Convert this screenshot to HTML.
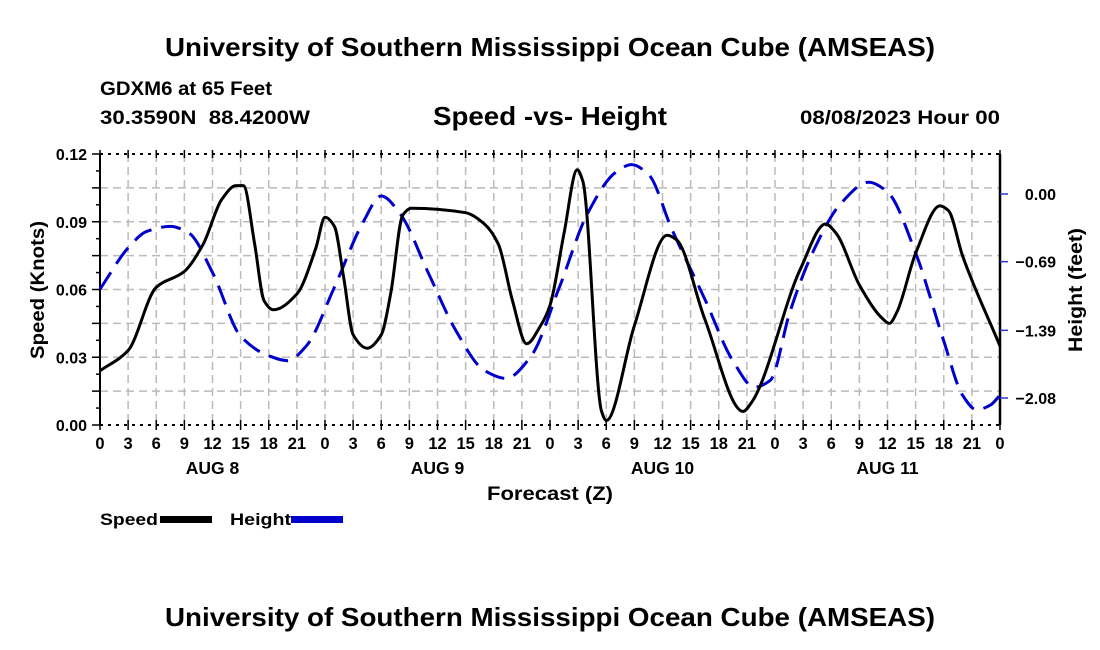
<!DOCTYPE html>
<html><head><meta charset="utf-8"><style>
html,body{margin:0;padding:0;background:#fff;width:1100px;height:650px;overflow:hidden}
svg text{font-family:"Liberation Sans",Arial,sans-serif;font-weight:bold;fill:#000;white-space:pre}
</style></head><body>
<svg id="chart" width="1100" height="650" viewBox="0 0 1100 650">
<text x="550" y="56" text-anchor="middle" font-size="26" textLength="770" lengthAdjust="spacingAndGlyphs">University of Southern Mississippi Ocean Cube (AMSEAS)</text>
<text x="100" y="95" font-size="19" textLength="172" lengthAdjust="spacingAndGlyphs">GDXM6 at 65 Feet</text>
<text x="100" y="124" font-size="19" textLength="210" lengthAdjust="spacingAndGlyphs">30.3590N  88.4200W</text>
<text x="550" y="125" text-anchor="middle" font-size="26" textLength="234" lengthAdjust="spacingAndGlyphs">Speed -vs- Height</text>
<text x="800" y="124" font-size="19" textLength="200" lengthAdjust="spacingAndGlyphs">08/08/2023 Hour 00</text>
<g id="grid"></g>
<g id="axes"></g>
<g id="series"></g>
<text x="550" y="500" text-anchor="middle" font-size="19" textLength="126" lengthAdjust="spacingAndGlyphs">Forecast (Z)</text>
<text transform="translate(44,290) rotate(-90)" text-anchor="middle" font-size="19" textLength="138" lengthAdjust="spacingAndGlyphs">Speed (Knots)</text>
<text transform="translate(1082,290) rotate(-90)" text-anchor="middle" font-size="19" textLength="124" lengthAdjust="spacingAndGlyphs">Height (feet)</text>
<g>
<text x="100" y="525" font-size="17" textLength="58" lengthAdjust="spacingAndGlyphs">Speed</text>
<rect x="160" y="516" width="52" height="7" fill="#000"/>
<text x="230" y="525" font-size="17" textLength="61" lengthAdjust="spacingAndGlyphs">Height</text>
<rect x="291" y="516" width="52" height="7" fill="#0000cc"/>
</g>
<text x="550" y="626" text-anchor="middle" font-size="26" textLength="770" lengthAdjust="spacingAndGlyphs">University of Southern Mississippi Ocean Cube (AMSEAS)</text>
</svg>
<script>
const speedHours=[0,3,6,9,11,13,14.5,15.3,16.5,17.5,18.5,21,23,24,25,26,27,28.5,30,31,32.3,33.2,39,41,42.5,44,45.5,47,48,49.5,50.9,51.5,53.5,54,57,60.5,61.5,64.5,68.6,69.5,74.7,77.4,78.5,81,83.5,84.2,85,87,89.6,90.5,92,96];
const speedValues=[.024,.033,.061,.068,.080,.100,.106,.106,.080,.055,.051,.058,.078,.092,.088,.065,.040,.034,.040,.058,.093,.096,.094,.089,.080,.055,.036,.044,.053,.085,.113,.108,.006,.002,.044,.084,.082,.047,.006,.010,.069,.089,.085,.062,.047,.045,.050,.076,.097,.095,.075,.035];
const heightHours=[0,3,5,7.5,9.5,12,15,18,20,22,25,28,30,32,35,38,41,43.3,46,49,52,55,56.7,58.5,61,64.5,67.5,69.8,71.5,73.6,76,79,82,84,87,90,92,93.5,95,96];
const heightValues=[-0.97,-0.55,-0.38,-0.33,-0.40,-0.80,-1.45,-1.65,-1.70,-1.55,-0.95,-0.30,-0.02,-0.20,-0.80,-1.40,-1.80,-1.88,-1.65,-0.95,-0.20,0.22,0.30,0.20,-0.36,-1.07,-1.70,-1.97,-1.90,-1.20,-0.60,-0.10,0.12,0.02,-0.60,-1.50,-2.05,-2.20,-2.15,-2.05];
const leftTicks=["0.00","0.03","0.06","0.09","0.12"];
const leftTickValues=[0,0.03,0.06,0.09,0.12];
const rightTicks=["0.00","\u22120.69","\u22121.39","\u22122.08"];
const rightTickValues=[0,-0.69,-1.39,-2.08];
const hourLabels=["0","3","6","9","12","15","18","21"];
const dayLabels=["AUG 8","AUG 9","AUG 10","AUG 11"];

const X0=100,X1=1000,YT=154,YB=425;
const xs=h=>X0+h*(X1-X0)/96;
const ys=v=>YB-v*(YB-YT)/0.12;
const yh=f=>194-f*(204/2.08);
const NS="http://www.w3.org/2000/svg";
function mk(tag,attrs,parent){const e=document.createElementNS(NS,tag);for(const k in attrs)e.setAttribute(k,attrs[k]);parent.appendChild(e);return e;}
const grid=document.getElementById('grid'),axes=document.getElementById('axes'),series=document.getElementById('series');
for(let i=1;i<32;i++){const x=xs(i*3);
 const l=mk('line',{x1:x,y1:YT,x2:x,y2:YB,stroke:'#bbb','stroke-width':1.5,'stroke-dasharray':'8,5'},grid);
 
 }
for(let i=1;i<8;i++){const y=ys(i*0.015);
 const l=mk('line',{x1:X0,y1:y,x2:X1,y2:y,stroke:'#bbb','stroke-width':1.5,'stroke-dasharray':'8,5'},grid);
 
 }
mk('line',{x1:X0,y1:YT,x2:X1,y2:YT,stroke:'#000','stroke-width':2,'stroke-dasharray':'3,5'},axes);
mk('line',{x1:X0,y1:YB,x2:X1,y2:YB,stroke:'#000','stroke-width':2,'stroke-dasharray':'3,5'},axes);
mk('line',{x1:X0,y1:YT,x2:X0,y2:YB,stroke:'#000','stroke-width':2},axes);
mk('line',{x1:X1,y1:YT,x2:X1,y2:YB,stroke:'#000','stroke-width':2.5},axes);
for(let i=0;i<=32;i++){const x=xs(i*3);
 mk('line',{x1:x,y1:YB-5,x2:x,y2:YB+5,stroke:'#000','stroke-width':1.5},axes);
 mk('line',{x1:x,y1:YT-4,x2:x,y2:YT+4,stroke:'#000','stroke-width':1.5},axes);
 const t=mk('text',{x:x,y:449,'text-anchor':'middle','font-size':16.5},axes);
 t.textContent=i==32?"0":hourLabels[i%8];
 
 }
dayLabels.forEach((d,i)=>{const t=mk('text',{x:xs(i*24+12),y:474,'text-anchor':'middle','font-size':17.5},axes);t.textContent=d;
 
 });
for(let i=0;i<=16;i++){const y=ys(i*0.0075);mk('line',{x1:X0-(i%2?4:8),y1:y,x2:X0,y2:y,stroke:'#000','stroke-width':1.5},axes);}
leftTickValues.forEach((v,i)=>{const t=mk('text',{x:87,y:ys(v)+6,'text-anchor':'end','font-size':16},axes);t.textContent=leftTicks[i];
 
 });
rightTickValues.forEach((v,i)=>{const y=yh(v);mk('line',{x1:X1,y1:y,x2:X1+8,y2:y,stroke:'#3333cc','stroke-width':1.5},axes);
 const t=mk('text',{x:1056,y:y+6,'text-anchor':'end','font-size':16},axes);t.textContent=rightTicks[i];
 
 });
function monotone(pts){const n=pts.length,dx=[],m=[],t=[];
 for(let i=0;i<n-1;i++){dx.push(pts[i+1][0]-pts[i][0]);m.push((pts[i+1][1]-pts[i][1])/dx[i]);}
 t[0]=m[0];t[n-1]=m[n-2];
 for(let i=1;i<n-1;i++){if(m[i-1]*m[i]<=0)t[i]=0;else{const w1=2*dx[i]+dx[i-1],w2=dx[i]+2*dx[i-1];t[i]=(w1+w2)/(w1/m[i-1]+w2/m[i]);}}
 let d='M'+pts[0][0].toFixed(1)+','+pts[0][1].toFixed(1);
 for(let i=0;i<n-1;i++){const h=dx[i]/3;
  d+=' C'+(pts[i][0]+h).toFixed(1)+','+(pts[i][1]+t[i]*h).toFixed(1)+' '+(pts[i+1][0]-h).toFixed(1)+','+(pts[i+1][1]-t[i+1]*h).toFixed(1)+' '+pts[i+1][0].toFixed(1)+','+pts[i+1][1].toFixed(1);}
 return d;}
const hp=mk('path',{d:monotone(heightHours.map((h,i)=>[xs(h),yh(heightValues[i])])),fill:'none',stroke:'#0000cc','stroke-width':3,'stroke-dasharray':'20,10'},series);


const sp=mk('path',{d:monotone(speedHours.map((h,i)=>[xs(h),ys(speedValues[i])])),fill:'none',stroke:'#000','stroke-width':3,'stroke-linejoin':'round'},series);


</script>
</body></html>
